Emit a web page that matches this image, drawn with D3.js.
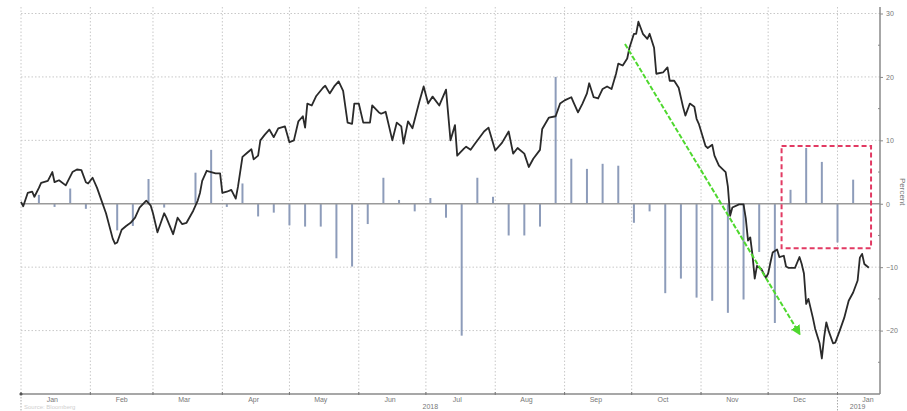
<!DOCTYPE html>
<html>
<head>
<meta charset="utf-8">
<script src="https://cdn.jsdelivr.net/npm/d3@7"></script>
<style>
html,body{margin:0;padding:0;background:#fff;}
svg{display:block;}
text{font-family:"Liberation Sans",Arial,sans-serif;}
</style>
</head>
<body>
<svg id="chart" width="907" height="411"></svg>
<script>
// ---------------- DATA ----------------
const monthLabels = ["Jan","Feb","Mar","Apr","May","Jun","Jul","Aug","Sep","Oct","Nov","Dec","Jan"];
const yearLabels = [["2018","2018-07-03"],["2019","2019-01-10"]];
const yTicks = [30,20,10,0,-10,-20];

// cumulative performance line (percent)
const lineSeries = [
["2018-01-01",0.3],["2018-01-02",-0.4],["2018-01-04",1.7],["2018-01-06",1.9],["2018-01-07",1.1],
["2018-01-09",2.5],["2018-01-10",3.3],["2018-01-13",3.6],["2018-01-15",5.0],["2018-01-16",3.4],
["2018-01-18",3.7],["2018-01-21",2.9],["2018-01-24",5.0],["2018-01-26",5.4],["2018-01-28",5.3],
["2018-01-30",3.4],["2018-01-31",3.2],["2018-02-02",4.1],["2018-02-04",2.5],["2018-02-06",0.5],
["2018-02-08",-1.5],["2018-02-11",-5.5],["2018-02-12",-6.3],["2018-02-13",-6.1],["2018-02-15",-4.1],
["2018-02-17",-3.5],["2018-02-19",-3.0],["2018-02-21",-2.2],["2018-02-23",-0.6],["2018-02-26",0.5],
["2018-02-28",-0.3],["2018-03-01",-1.5],["2018-03-03",-4.5],["2018-03-06",-1.5],["2018-03-07",-2.2],
["2018-03-10",-4.8],["2018-03-12",-2.2],["2018-03-14",-3.2],["2018-03-16",-3.0],["2018-03-19",-1.1],
["2018-03-21",0.5],["2018-03-22",1.7],["2018-03-23",3.6],["2018-03-25",5.2],["2018-03-27",5.0],
["2018-03-29",4.8],["2018-03-31",4.8],["2018-04-01",1.7],["2018-04-03",1.9],["2018-04-05",2.2],
["2018-04-07",0.8],["2018-04-08",2.7],["2018-04-10",7.4],["2018-04-12",8.0],["2018-04-14",8.6],
["2018-04-15",7.0],["2018-04-17",7.6],["2018-04-18",10.0],["2018-04-20",10.9],["2018-04-22",11.7],
["2018-04-24",10.5],["2018-04-26",11.9],["2018-04-29",12.2],["2018-05-01",9.7],["2018-05-03",10.0],
["2018-05-05",13.0],["2018-05-07",13.8],["2018-05-08",12.0],["2018-05-09",15.8],["2018-05-11",15.5],
["2018-05-13",17.0],["2018-05-16",18.3],["2018-05-17",18.6],["2018-05-19",17.4],["2018-05-21",18.5],
["2018-05-23",19.3],["2018-05-25",17.8],["2018-05-27",12.8],["2018-05-29",12.6],["2018-05-30",15.8],
["2018-06-01",15.8],["2018-06-03",12.8],["2018-06-06",12.8],["2018-06-07",15.5],["2018-06-10",14.4],
["2018-06-11",14.2],["2018-06-13",14.5],["2018-06-16",10.0],["2018-06-18",12.8],["2018-06-20",12.2],
["2018-06-21",9.5],["2018-06-23",13.0],["2018-06-25",11.9],["2018-06-28",16.0],["2018-06-30",18.5],
["2018-07-02",15.8],["2018-07-04",16.9],["2018-07-07",15.5],["2018-07-10",18.0],["2018-07-12",10.0],
["2018-07-14",12.4],["2018-07-15",7.6],["2018-07-18",8.7],["2018-07-19",9.0],["2018-07-21",8.5],
["2018-07-23",9.5],["2018-07-27",11.4],["2018-07-29",12.0],["2018-08-01",8.4],["2018-08-04",9.6],
["2018-08-07",11.4],["2018-08-09",7.9],["2018-08-11",8.8],["2018-08-14",7.9],["2018-08-16",5.8],
["2018-08-18",7.1],["2018-08-21",8.5],["2018-08-22",11.8],["2018-08-25",13.6],["2018-08-28",13.8],
["2018-08-30",15.8],["2018-09-01",16.3],["2018-09-04",16.8],["2018-09-05",16.0],["2018-09-07",14.4],
["2018-09-09",15.8],["2018-09-11",17.4],["2018-09-12",19.0],["2018-09-14",16.8],["2018-09-16",16.6],
["2018-09-18",18.1],["2018-09-20",18.5],["2018-09-22",18.1],["2018-09-24",20.5],["2018-09-25",22.1],
["2018-09-27",21.8],["2018-09-29",22.9],["2018-09-30",24.6],["2018-10-02",26.8],["2018-10-03",26.8],
["2018-10-04",28.7],["2018-10-06",26.8],["2018-10-08",26.0],["2018-10-09",26.8],["2018-10-11",24.6],
["2018-10-12",20.5],["2018-10-15",20.7],["2018-10-17",21.5],["2018-10-18",19.4],["2018-10-20",19.4],
["2018-10-22",18.3],["2018-10-24",15.2],["2018-10-25",13.9],["2018-10-27",15.8],["2018-10-29",15.3],
["2018-10-30",13.4],["2018-10-31",12.6],["2018-11-03",9.1],["2018-11-04",8.8],["2018-11-06",9.3],
["2018-11-07",7.6],["2018-11-09",6.0],["2018-11-12",5.0],["2018-11-13",2.7],["2018-11-14",-1.9],
["2018-11-15",-0.6],["2018-11-18",-0.1],["2018-11-20",-0.1],["2018-11-21",-2.3],["2018-11-22",-5.8],
["2018-11-23",-5.3],["2018-11-24",-8.1],["2018-11-25",-11.8],["2018-11-26",-9.8],["2018-11-28",-10.3],
["2018-11-30",-11.7],["2018-12-01",-11.0],["2018-12-02",-9.3],["2018-12-03",-7.7],["2018-12-05",-7.2],
["2018-12-06",-8.4],["2018-12-08",-8.2],["2018-12-09",-9.9],["2018-12-10",-10.1],["2018-12-13",-10.1],
["2018-12-15",-8.4],["2018-12-16",-9.5],["2018-12-17",-11.0],["2018-12-18",-15.8],["2018-12-19",-15.0],
["2018-12-21",-18.0],["2018-12-22",-19.7],["2018-12-24",-22.0],["2018-12-25",-24.4],["2018-12-26",-21.1],
["2018-12-27",-18.7],["2018-12-28",-20.0],["2018-12-30",-22.0],["2018-12-31",-21.9],["2019-01-02",-20.0],
["2019-01-04",-18.0],["2019-01-06",-15.3],["2019-01-08",-14.0],["2019-01-10",-12.1],["2019-01-11",-8.5],
["2019-01-12",-7.9],["2019-01-13",-9.5],["2019-01-15",-10.1]
];

// weekly change bars (percent), one per week starting this date
const barStartDate = "2018-01-09";
const barValues = [
1.4,-0.5,2.4,-0.8,0.0,-4.2,-3.5,3.9,-0.6,0.0,
4.9,8.5,-0.5,3.2,-2.0,-1.4,-3.4,-3.6,-3.6,-8.6,
-9.9,-3.2,4.1,0.6,-1.2,0.9,-2.2,-20.8,4.1,1.1,
-5.0,-5.0,-3.6,20.0,7.1,5.5,6.3,6.0,-3.0,-1.2,
-14.1,-11.8,-14.8,-15.3,-17.2,-15.1,-7.6,-18.8,2.2,8.8,
6.6,-6.1,3.8
];

// annotations
const boxDates = ["2018-12-07","2019-01-16"];
const boxValues = [9.1,-7.0];
const arrowDates = ["2018-09-28","2018-12-15"];
const arrowValues = [25.2,-20.5];

// ---------------- CHART ----------------
const svg = d3.select("#chart");
const parse = d3.utcParse("%Y-%m-%d");

const x = d3.scaleUtc()
  .domain([parse("2018-01-01"), parse("2019-01-20")])
  .range([21, 880]);
const y = d3.scaleLinear().domain([-30, 31.5]).range([394, 4]);

const x0 = x.range()[0], x1 = x.range()[1];
const yBottom = y(-30), yTop = y(31.5);

const monthStarts = d3.utcMonth.range(parse("2018-01-01"), parse("2019-01-02"));
const gridColor = "#c8c8c8";

// vertical grid
svg.append("g").selectAll("line").data(monthStarts).join("line")
  .attr("x1", d => x(d)).attr("x2", d => x(d))
  .attr("y1", yTop + 3).attr("y2", yBottom)
  .attr("stroke", gridColor).attr("stroke-width", 1).attr("stroke-dasharray", "1.5,2");

// horizontal grid
svg.append("g").selectAll("line").data(yTicks.filter(v => v !== 0)).join("line")
  .attr("x1", x0).attr("x2", x1)
  .attr("y1", d => y(d)).attr("y2", d => y(d))
  .attr("stroke", gridColor).attr("stroke-width", 1).attr("stroke-dasharray", "1.5,2");

// bars
const barDates = d3.range(barValues.length).map(i => d3.utcDay.offset(parse(barStartDate), i * 7));
svg.append("g").selectAll("line").data(barValues).join("line")
  .attr("x1", (d, i) => x(barDates[i])).attr("x2", (d, i) => x(barDates[i]))
  .attr("y1", y(0)).attr("y2", d => y(d))
  .attr("stroke", "#8d9cba").attr("stroke-width", 2);

// zero line
svg.append("line")
  .attr("x1", x0).attr("x2", x1).attr("y1", y(0)).attr("y2", y(0))
  .attr("stroke", "#9a9a9a").attr("stroke-width", 1.5);

// main line
const line = d3.line().x(d => x(parse(d[0]))).y(d => y(d[1])).curve(d3.curveLinear);
svg.append("path").datum(lineSeries)
  .attr("d", line).attr("fill", "none")
  .attr("stroke", "#2a2a2a").attr("stroke-width", 1.8).attr("stroke-linejoin", "round");

// green arrow
const defs = svg.append("defs");
defs.append("marker").attr("id", "arr").attr("viewBox", "0 0 10 10")
  .attr("refX", 8).attr("refY", 5).attr("markerWidth", 5).attr("markerHeight", 5)
  .attr("orient", "auto")
  .append("path").attr("d", "M0,0 L10,5 L0,10 z").attr("fill", "#4fd82f");
svg.append("line")
  .attr("x1", x(parse(arrowDates[0]))).attr("y1", y(arrowValues[0]))
  .attr("x2", x(parse(arrowDates[1]))).attr("y2", y(arrowValues[1]))
  .attr("stroke", "#4fd82f").attr("stroke-width", 2).attr("stroke-dasharray", "5,2")
  .attr("marker-end", "url(#arr)");

// red dashed box
svg.append("rect")
  .attr("x", x(parse(boxDates[0]))).attr("y", y(boxValues[0]))
  .attr("width", x(parse(boxDates[1])) - x(parse(boxDates[0])))
  .attr("height", y(boxValues[1]) - y(boxValues[0]))
  .attr("fill", "none").attr("stroke", "#e23a63").attr("stroke-width", 2)
  .attr("stroke-dasharray", "5,3");

// right axis
const axisColor = "#8a8a8a";
svg.append("line").attr("x1", x1).attr("x2", x1).attr("y1", yTop + 3).attr("y2", yBottom)
  .attr("stroke", axisColor).attr("stroke-width", 1.5);
const yAxis = d3.axisRight(y).tickValues(yTicks).tickSize(3).tickPadding(3).tickFormat(d3.format("d"));
const ya = svg.append("g").attr("transform", `translate(${x1},0)`).call(yAxis);
ya.select(".domain").remove();
ya.selectAll("line").attr("stroke", axisColor);
ya.selectAll("text").attr("fill", "#777").attr("font-size", 7);
// minor ticks
svg.append("g").selectAll("line").data(d3.range(-25, 31, 10)).join("line")
  .attr("x1", x1 - 2).attr("x2", x1).attr("y1", d => y(d)).attr("y2", d => y(d))
  .attr("stroke", axisColor);

svg.append("text")
  .attr("transform", `translate(900,${y(0) - 12}) rotate(90)`)
  .attr("text-anchor", "middle").attr("font-size", 8).attr("fill", "#777")
  .text("Percent");

// bottom axis
svg.append("line").attr("x1", x0).attr("x2", x1).attr("y1", yBottom).attr("y2", yBottom)
  .attr("stroke", axisColor).attr("stroke-width", 1.5);
svg.append("g").selectAll("line").data(monthStarts).join("line")
  .attr("x1", d => x(d)).attr("x2", d => x(d)).attr("y1", yBottom - 2).attr("y2", yBottom + 1)
  .attr("stroke", "#777");
svg.append("circle").attr("cx", x0).attr("cy", yBottom).attr("r", 1.6).attr("fill", "#555");

const midMonths = monthStarts.map(d => d3.utcDay.offset(d, 14));
svg.append("g").selectAll("text").data(monthLabels).join("text")
  .attr("x", (d, i) => Math.min(x(midMonths[i]), 868))
  .attr("y", yBottom + 8)
  .attr("text-anchor", "middle").attr("font-size", 7).attr("fill", "#777")
  .text(d => d);

svg.append("g").selectAll("text").data(yearLabels).join("text")
  .attr("x", d => x(parse(d[1]))).attr("y", yBottom + 15)
  .attr("text-anchor", "middle").attr("font-size", 7).attr("fill", "#777")
  .text(d => d[0]);

// year separators
svg.append("g").selectAll("line").data(["2018-01-01","2019-01-01"]).join("line")
  .attr("x1", d => x(parse(d))).attr("x2", d => x(parse(d)))
  .attr("y1", yBottom + 3).attr("y2", 411)
  .attr("stroke", "#aaa").attr("stroke-dasharray", "1.5,1.5");

// faint source note
svg.append("text").attr("x", 24).attr("y", 409).attr("font-size", 6).attr("fill", "#cfcfcf")
  .text("Source: Bloomberg");
</script>
</body>
</html>
